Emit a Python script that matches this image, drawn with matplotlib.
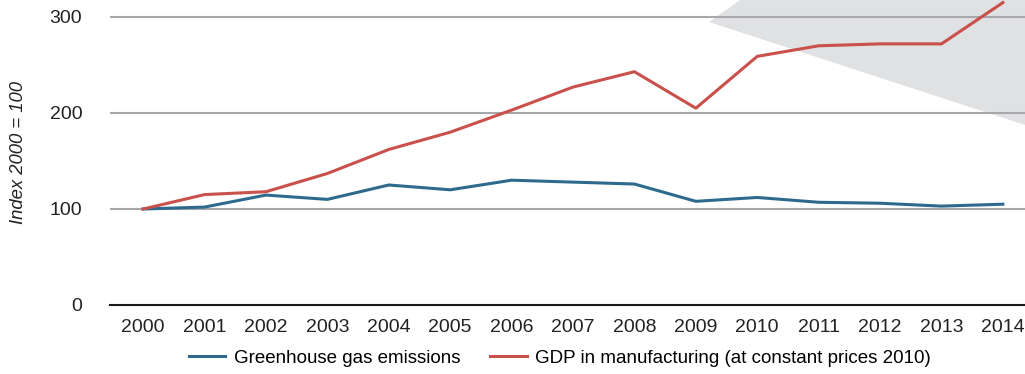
import matplotlib.pyplot as plt
from matplotlib.patches import Polygon

plt.rcParams['font.family'] = ['Liberation Sans', 'DejaVu Sans']

years = list(range(2000, 2015))
ghg_emissions = [100, 102, 114.5, 110, 125, 120, 130, 128, 126, 108, 112, 107, 106, 103, 105]
gdp_manufacturing = [100, 115, 118, 137, 162, 180, 203, 227, 243, 205, 259, 270, 272, 272, 315]
y_ticks = [0, 100, 200, 300]

blue = '#2d6a8d'
red = '#c9504b'
fs = 14

fig = plt.figure(figsize=(10.25, 3.74), dpi=100)
ax = fig.add_axes([0.1073, 0.1845, 0.8927, 0.8155])
ax.patch.set_alpha(0)

# grey wedge in the top right corner
wedge = Polygon([(740 / 1025, 1.0), (709 / 1025, 1 - 22 / 374),
                 (1.0, 1 - 125 / 374), (1.0, 1.0)],
                closed=True, transform=fig.transFigure,
                facecolor='#e0e1e3', edgecolor='none', zorder=-1)
fig.patches.append(wedge)

ax.plot(years, ghg_emissions, color=blue, lw=2.2, label='Greenhouse gas emissions',
        zorder=3, clip_on=False)
ax.plot(years, gdp_manufacturing, color=red, lw=2.2,
        label='GDP in manufacturing (at constant prices 2010)', zorder=3, clip_on=False)

ax.set_xlim(1999.46, 2014.36)
ax.set_ylim(0, 317.7)
ax.set_xticks(years)
ax.set_yticks(y_ticks)
for v in y_ticks[1:]:
    ax.axhline(v, color='#a8a8ac', lw=1.5, zorder=1)

for s in ['top', 'right', 'left']:
    ax.spines[s].set_visible(False)
ax.spines['bottom'].set_color('#1a1a1a')
ax.spines['bottom'].set_linewidth(1.5)
ax.tick_params(axis='both', length=0, labelsize=fs, colors='#222222')
ax.tick_params(axis='y', pad=20)
ax.tick_params(axis='x', pad=10)

fig.text(19 / 1025, 1 - 152 / 374, 'Index 2000 = 100', rotation=90, style='italic',
         fontsize=13.3, color='#222222', ha='center', va='center')

fig.legend(loc='center', bbox_to_anchor=(560 / 1025, 1 - 358 / 374), ncol=2,
           frameon=False, fontsize=13.5, handlelength=1.95, columnspacing=1.6,
           handletextpad=0.45)

fig.savefig('out.png', dpi=100)
